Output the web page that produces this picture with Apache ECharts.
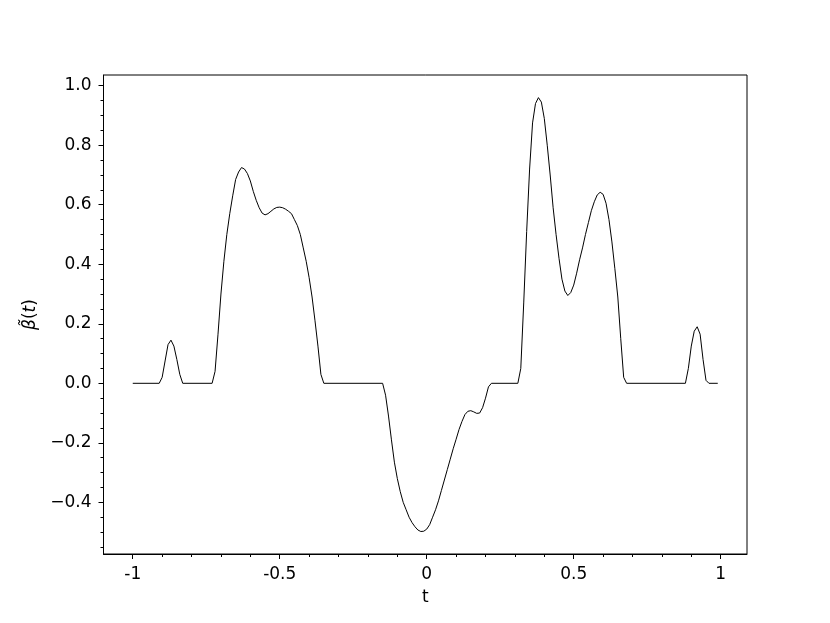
<!doctype html>
<html>
<head>
<meta charset="UTF-8">
<title>beta tilde</title>
<script src="https://cdn.jsdelivr.net/npm/echarts@6/dist/echarts.min.js"></script>
<style>
  html, body { margin: 0; padding: 0; background: #fff; }
  #chart { width: 830px; height: 623px; }
</style>
</head>
<body>
<div id="chart"></div>
<script>
// sample points
var tValues = [
  -1, -0.91, -0.90, -0.89, -0.88, -0.87, -0.86, -0.85, -0.84, -0.83,
  -0.73, -0.72, -0.71, -0.70, -0.69, -0.68, -0.67, -0.66, -0.65, -0.64,
  -0.63, -0.62, -0.61, -0.60, -0.59, -0.58, -0.57, -0.56, -0.55, -0.54,
  -0.53, -0.52, -0.51, -0.50, -0.49, -0.48, -0.47, -0.46, -0.45, -0.44,
  -0.43, -0.42, -0.41, -0.40, -0.39, -0.38, -0.37, -0.36, -0.35,
  -0.15, -0.14, -0.13, -0.12, -0.11, -0.10, -0.09, -0.08, -0.07, -0.06,
  -0.05, -0.04, -0.03, -0.02, -0.01, 0.00, 0.01, 0.02, 0.03, 0.04,
  0.05, 0.06, 0.07, 0.08, 0.09, 0.10, 0.11, 0.12, 0.13, 0.14,
  0.15, 0.16, 0.17, 0.18, 0.19, 0.20, 0.21, 0.22,
  0.31, 0.32, 0.33, 0.34, 0.35, 0.36, 0.37, 0.38, 0.39, 0.40,
  0.41, 0.42, 0.43, 0.44, 0.45, 0.46, 0.47, 0.48, 0.49, 0.50,
  0.51, 0.52, 0.53, 0.54, 0.55, 0.56, 0.57, 0.58, 0.59, 0.60,
  0.61, 0.62, 0.63, 0.64, 0.65, 0.66, 0.67, 0.68,
  0.88, 0.89, 0.90, 0.91, 0.92, 0.93, 0.94, 0.95, 0.96, 0.99
];
var betaValues = [
  0, 0, 0.02, 0.075, 0.13, 0.145, 0.125, 0.08, 0.03, 0,
  0, 0.04, 0.165, 0.30, 0.41, 0.50, 0.57, 0.63, 0.685, 0.71,
  0.725, 0.72, 0.705, 0.68, 0.645, 0.615, 0.59, 0.572, 0.566, 0.57,
  0.578, 0.586, 0.591, 0.592, 0.59, 0.585, 0.578, 0.57, 0.55, 0.53,
  0.50, 0.455, 0.41, 0.355, 0.29, 0.21, 0.125, 0.03, 0,
  0, -0.04, -0.11, -0.19, -0.265, -0.32, -0.364, -0.40, -0.425, -0.45,
  -0.468, -0.482, -0.493, -0.498, -0.497, -0.49, -0.475, -0.45, -0.425, -0.395,
  -0.36, -0.325, -0.29, -0.255, -0.22, -0.188, -0.155, -0.128, -0.105, -0.094,
  -0.092, -0.096, -0.101, -0.10, -0.082, -0.05, -0.012, 0,
  0, 0.05, 0.27, 0.51, 0.72, 0.875, 0.94, 0.96, 0.945, 0.89,
  0.80, 0.70, 0.59, 0.50, 0.42, 0.35, 0.31, 0.295, 0.305, 0.33,
  0.37, 0.415, 0.455, 0.50, 0.54, 0.58, 0.61, 0.633, 0.642, 0.635,
  0.605, 0.55, 0.475, 0.385, 0.29, 0.15, 0.02, 0,
  0, 0.05, 0.125, 0.175, 0.19, 0.165, 0.08, 0.01, 0, 0
];

// tick positions
var xMajor = [-1, -0.5, 0, 0.5, 1];
var xMinor = [-0.9, -0.8, -0.7, -0.6, -0.4, -0.3, -0.2, -0.1, 0.1, 0.2, 0.3, 0.4, 0.6, 0.7, 0.8, 0.9];
var yMajor = [-0.4, -0.2, 0, 0.2, 0.4, 0.6, 0.8, 1.0];
var yMinor = [-0.55, -0.5, -0.45, -0.35, -0.3, -0.25, -0.15, -0.1, -0.05, 0.05, 0.1, 0.15,
  0.25, 0.3, 0.35, 0.45, 0.5, 0.55, 0.65, 0.7, 0.75, 0.85, 0.9, 0.95];

var xMin = -1.0995, xMax = 1.0895;
var yMin = -0.5736, yMax = 1.036;

var font = 'DejaVu Sans';
var fs = 17;
var points = tValues.map(function (t, i) { return [t, betaValues[i]]; });

// an axis that only draws tick marks at given values
function tickAxis(pos, min, max, values, len) {
  return {
    type: 'value', min: min, max: max, position: pos,
    splitLine: { show: false },
    axisLine: { show: false, onZero: false },
    axisTick: { show: true, customValues: values, length: len, lineStyle: { color: '#000', width: 1 } },
    axisLabel: { show: false }
  };
}

var chart = echarts.init(document.getElementById('chart'), null, { renderer: 'canvas' });

var option = {
  animation: false,
  backgroundColor: '#fff',
  grid: {
    left: 103.5, right: 83, top: 75, bottom: 69,
    show: true, borderColor: '#000', borderWidth: 1
  },
  xAxis: [{
    type: 'value', min: xMin, max: xMax,
    name: 't', nameLocation: 'middle', nameGap: 35,
    nameTextStyle: { fontFamily: font, fontSize: fs, color: '#000' },
    splitLine: { show: false },
    axisLine: { show: true, onZero: false, lineStyle: { color: '#000', width: 1 } },
    axisTick: { show: false },
    axisLabel: {
      customValues: xMajor, margin: 12,
      fontFamily: font, fontSize: fs, color: '#000',
      formatter: function (v) { return String(v); }
    }
  },
    tickAxis('bottom', xMin, xMax, xMajor, 5),
    tickAxis('bottom', xMin, xMax, xMinor, 3)
  ],
  yAxis: [{
    type: 'value', min: yMin, max: yMax,
    name: '{i|β̃}({i|t})', nameLocation: 'middle', nameGap: 64,
    nameTextStyle: {
      fontFamily: font, fontSize: fs, color: '#000',
      rich: { i: { fontFamily: font, fontSize: fs, fontStyle: 'italic', color: '#000' } }
    },
    splitLine: { show: false },
    axisLine: { show: true, onZero: false, lineStyle: { color: '#000', width: 1 } },
    axisTick: { show: false },
    axisLabel: {
      customValues: yMajor, margin: 12,
      fontFamily: font, fontSize: fs, color: '#000',
      formatter: function (v) { return (v < 0 ? '\u2212' : '') + Math.abs(v).toFixed(1); }
    }
  },
    tickAxis('left', yMin, yMax, yMajor, 5),
    tickAxis('left', yMin, yMax, yMinor, 3)
  ],
  series: [{
    type: 'line',
    xAxisIndex: 0, yAxisIndex: 0,
    data: points,
    showSymbol: false,
    smooth: false,
    lineStyle: { color: '#000', width: 1 }
  }]
};

chart.setOption(option);
</script>
</body>
</html>
